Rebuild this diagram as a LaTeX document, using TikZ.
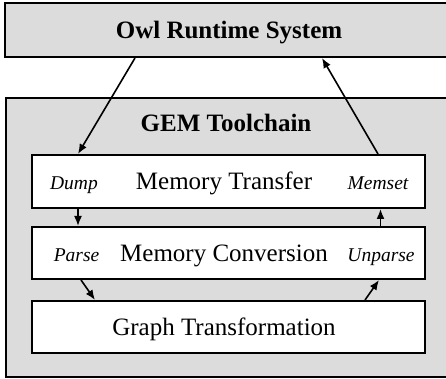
\documentclass[tikz,border=0pt]{standalone}
\usepackage{fontspec}
\setmainfont{Liberation Serif}
\usetikzlibrary{arrows.meta}

\definecolor{panelgray}{RGB}{220,220,220}

\tikzset{
  panel/.style={draw,line width=2pt,fill=panelgray,inner sep=0pt},
  title/.style={font=\fontsize{25}{30}\selectfont\bfseries,text height=16.5pt,text depth=0pt},
  stage/.style={draw,line width=2pt,fill=white,minimum width=393pt,minimum height=52pt,inner sep=0pt,
    font=\fontsize{25}{30}\selectfont,text height=16.5pt,text depth=0pt,
    execute at end node=\hspace{9pt}},
  op/.style={font=\fontsize{19.5}{23}\selectfont\itshape,text height=16.5pt,text depth=0pt,inner sep=0pt},
  flow/.style={-{Latex[length=10pt,width=8pt]},line width=1.6pt}
}

\begin{document}
\begin{tikzpicture}[x=1pt,y=1pt]
\useasboundingbox (0,0) rectangle (446,379);

% outer panels
\node[panel,title,minimum width=448pt,minimum height=54pt] at (229,349) (owl) {Owl Runtime System};
\node[panel,minimum width=446pt,minimum height=279pt] at (229,141.5) (gem) {};
\node[title] at (226,256) (gemtitle) {GEM Toolchain};

% stages
\node[stage,minimum height=53pt] at (228.5,197.5) (transfer) {Memory Transfer};
\node[stage] at (228.5,126) (conversion) {Memory Conversion};
\node[stage] at (228.5,52) (graph) {Graph Transformation};

% operations
\node[op] at (74,197.5) (dump) {Dump};
\node[op] at (378,197.5) (memset) {Memset};
\node[op] at (76.5,126) (parse) {Parse};
\node[op] at (381,126) (unparse) {Unparse};

% data flow
\draw[flow] ([xshift=-94pt]owl.south) -- ([xshift=-150.5pt]transfer.north);
\draw[flow] ([xshift=149.5pt]transfer.north) -- ([xshift=93pt]owl.south);
\draw[flow] ([xshift=-150.5pt]transfer.south) -- ([xshift=-150.5pt]conversion.north);
\draw[flow] ([xshift=152pt]conversion.north) -- ([xshift=152pt]transfer.south);
\draw[flow] ([xshift=-147.5pt]conversion.south) -- ([xshift=-133.5pt]graph.north);
\draw[flow] ([xshift=136.5pt]graph.north) -- ([xshift=150.5pt]conversion.south);
\end{tikzpicture}
\end{document}
